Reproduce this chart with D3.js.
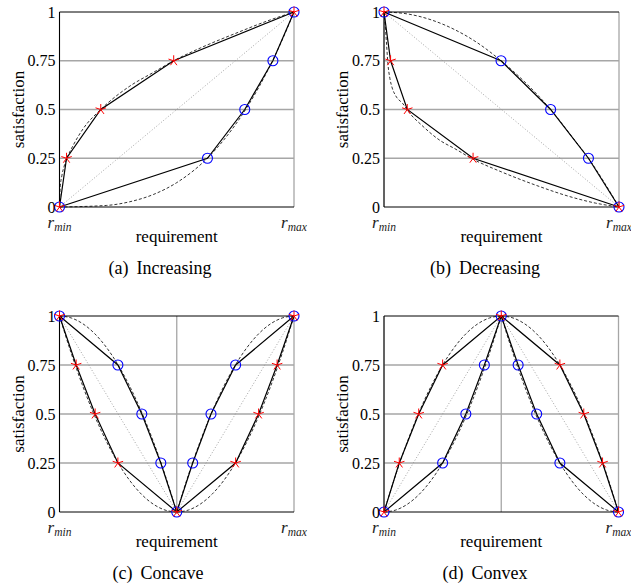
<!DOCTYPE html>
<html>
<head>
<meta charset="utf-8">
<script src="https://cdn.jsdelivr.net/npm/d3@7"></script>
<style>
  body { margin: 0; background: #fff; }
  svg { display: block; }
  text { font-family: "Liberation Serif", "Times New Roman", serif; }
</style>
</head>
<body>
<svg id="chart" width="631" height="584"></svg>
<script>
// ticks shared by every panel
const yTicks = [0, 0.25, 0.5, 0.75, 1];
const yTickLabels = ["0", "0.25", "0.5", "0.75", "1"];
const xTickSubs = ["min", "max"];

// (a) increasing
const incStars = [[0, 0], [0.03, 0.25], [0.176, 0.5], [0.487, 0.75], [1, 1]];
const incCircles = [[0, 0], [0.631, 0.25], [0.79, 0.5], [0.91, 0.75], [1, 1]];
const incStarCurve = [[[0, 0], [0.003, 0.1], [0.01, 0.16], [0.02, 0.21], [0.03, 0.245], [0.06, 0.32], [0.1, 0.4], [0.176, 0.5], [0.3, 0.62], [0.4, 0.69], [0.487, 0.75], [0.6, 0.815], [0.75, 0.89], [0.9, 0.96], [1, 1]]];
const incCircleCurve = [[[0, 0], [0.2, 0.008], [0.3, 0.027], [0.4, 0.064], [0.5, 0.125], [0.631, 0.251], [0.7, 0.343], [0.79, 0.493], [0.85, 0.614], [0.91, 0.754], [0.96, 0.885], [1, 1]]];
const incGuide = [[0, 0], [1, 1]];

// (b) decreasing
const decStars = [[0, 1], [0.028, 0.75], [0.099, 0.5], [0.379, 0.25], [1, 0]];
const decCircles = [[0, 1], [0.498, 0.75], [0.709, 0.5], [0.87, 0.25], [1, 0]];
const decStarCurve = [[[0, 1], [0.004, 0.95], [0.01, 0.85], [0.017, 0.73], [0.025, 0.66], [0.035, 0.61], [0.05, 0.57], [0.08, 0.53], [0.11, 0.48], [0.16, 0.42], [0.24, 0.34], [0.3, 0.3], [0.379, 0.245], [0.5, 0.18], [0.65, 0.11], [0.8, 0.05], [0.9, 0.02], [1, 0]]];
const decCircleCurve = [[[0, 1], [0.1, 0.99], [0.2, 0.96], [0.3, 0.91], [0.4, 0.84], [0.498, 0.75], [0.6, 0.64], [0.709, 0.5], [0.8, 0.36], [0.87, 0.25], [0.93, 0.14], [1, 0]]];
const decGuide = [[0, 1], [1, 0]];

// (c) concave
const cavStars = [[0, 1], [0.071, 0.75], [0.152, 0.5], [0.249, 0.25], [0.5, 0], [0.751, 0.25], [0.849, 0.5], [0.928, 0.75], [1, 1]];
const cavCircles = [[0, 1], [0.249, 0.75], [0.351, 0.5], [0.432, 0.25], [0.5, 0], [0.568, 0.25], [0.646, 0.5], [0.751, 0.75], [1, 1]];
const cavStarCurve = [
  [[0, 1], [0.05, 0.81], [0.1, 0.64], [0.15, 0.49], [0.2, 0.36], [0.25, 0.25], [0.3, 0.16], [0.35, 0.09], [0.4, 0.04], [0.45, 0.01], [0.5, 0]],
  [[0.5, 0], [0.55, 0.01], [0.6, 0.04], [0.65, 0.09], [0.7, 0.16], [0.75, 0.25], [0.8, 0.36], [0.85, 0.49], [0.9, 0.64], [0.95, 0.81], [1, 1]]
];
const cavCircleCurve = [
  [[0, 1], [0.05, 0.99], [0.1, 0.96], [0.15, 0.91], [0.2, 0.84], [0.25, 0.75], [0.3, 0.64], [0.35, 0.51], [0.4, 0.36], [0.45, 0.19], [0.5, 0]],
  [[0.5, 0], [0.55, 0.19], [0.6, 0.36], [0.65, 0.51], [0.7, 0.64], [0.75, 0.75], [0.8, 0.84], [0.85, 0.91], [0.9, 0.96], [0.95, 0.99], [1, 1]]
];
const cavGuide = [[0, 1], [0.5, 0], [1, 1]];

// (d) convex
const vexStars = [[0, 0], [0.065, 0.25], [0.148, 0.5], [0.25, 0.75], [0.5, 1], [0.75, 0.75], [0.852, 0.5], [0.932, 0.25], [1, 0]];
const vexCircles = [[0, 0], [0.25, 0.25], [0.349, 0.5], [0.428, 0.75], [0.5, 1], [0.572, 0.75], [0.651, 0.5], [0.75, 0.25], [1, 0]];
const vexStarCurve = [
  [[0, 0], [0.05, 0.19], [0.1, 0.36], [0.15, 0.51], [0.2, 0.64], [0.25, 0.75], [0.3, 0.84], [0.35, 0.91], [0.4, 0.96], [0.45, 0.99], [0.5, 1]],
  [[0.5, 1], [0.55, 0.99], [0.6, 0.96], [0.65, 0.91], [0.7, 0.84], [0.75, 0.75], [0.8, 0.64], [0.85, 0.51], [0.9, 0.36], [0.95, 0.19], [1, 0]]
];
const vexCircleCurve = [
  [[0, 0], [0.05, 0.01], [0.1, 0.04], [0.15, 0.09], [0.2, 0.16], [0.25, 0.25], [0.3, 0.36], [0.35, 0.49], [0.4, 0.64], [0.45, 0.81], [0.5, 1]],
  [[0.5, 1], [0.55, 0.81], [0.6, 0.64], [0.65, 0.49], [0.7, 0.36], [0.75, 0.25], [0.8, 0.16], [0.85, 0.09], [0.9, 0.04], [0.95, 0.01], [1, 0]]
];
const vexGuide = [[0, 0], [0.5, 1], [1, 0]];

const panels = [
  { label: "(a)", title: "Increasing", x0: 59.5, x1: 294, y0: 12, y1: 207, xGrid: [0, 1], cap: 160,
    stars: incStars, circles: incCircles, starCurve: incStarCurve, circleCurve: incCircleCurve, guide: incGuide },
  { label: "(b)", title: "Decreasing", x0: 384, x1: 619, y0: 12, y1: 207, xGrid: [0, 1], cap: 485,
    stars: decStars, circles: decCircles, starCurve: decStarCurve, circleCurve: decCircleCurve, guide: decGuide },
  { label: "(c)", title: "Concave", x0: 59.5, x1: 294, y0: 316, y1: 512, xGrid: [0, 0.5, 1], cap: 158,
    stars: cavStars, circles: cavCircles, starCurve: cavStarCurve, circleCurve: cavCircleCurve, guide: cavGuide },
  { label: "(d)", title: "Convex", x0: 384, x1: 618.5, y0: 316, y1: 512, xGrid: [0, 0.5, 1], cap: 485,
    stars: vexStars, circles: vexCircles, starCurve: vexStarCurve, circleCurve: vexCircleCurve, guide: vexGuide }
];

const svg = d3.select("#chart");

// 5-spoke asterisk like pgfplots "star"
const starPath = (r) =>
  d3.range(5).map((k) => {
    const a = (-90 + 72 * k) * Math.PI / 180;
    return `M0,0L${(r * Math.cos(a)).toFixed(2)},${(r * Math.sin(a)).toFixed(2)}`;
  }).join("");

panels.forEach((p) => {
  const x = d3.scaleLinear().domain([0, 1]).range([p.x0, p.x1]);
  const y = d3.scaleLinear().domain([0, 1]).range([p.y1, p.y0]);
  const g = svg.append("g");

  // grid
  g.append("g")
    .selectAll("line")
    .data(yTicks.slice(1, -1))
    .join("line")
    .attr("x1", p.x0).attr("x2", p.x1)
    .attr("y1", (d) => y(d)).attr("y2", (d) => y(d))
    .attr("stroke", "#a6a6a6").attr("stroke-width", 1.3);
  g.append("g")
    .selectAll("line")
    .data(p.xGrid)
    .join("line")
    .attr("x1", (d) => x(d)).attr("x2", (d) => x(d))
    .attr("y1", p.y0).attr("y2", p.y1)
    .attr("stroke", "#a6a6a6").attr("stroke-width", 1.3);

  // frame: left axis, top and bottom
  g.append("path")
    .attr("d", `M${p.x1},${p.y0}H${p.x0}V${p.y1}H${p.x1}`)
    .attr("fill", "none").attr("stroke", "#000").attr("stroke-width", 1);

  const line = d3.line().x((d) => x(d[0])).y((d) => y(d[1]));
  const smooth = d3.line().x((d) => x(d[0])).y((d) => y(d[1])).curve(d3.curveMonotoneX);

  // dotted guide
  g.append("path")
    .attr("d", line(p.guide))
    .attr("fill", "none").attr("stroke", "#8c8c8c")
    .attr("stroke-width", 0.8).attr("stroke-dasharray", "1,2");

  // dashed reference curves
  p.starCurve.concat(p.circleCurve).forEach((seg) => {
    g.append("path")
      .attr("d", smooth(seg))
      .attr("fill", "none").attr("stroke", "#000")
      .attr("stroke-width", 0.8).attr("stroke-dasharray", "3,2");
  });

  // solid piecewise lines
  [p.stars, p.circles].forEach((pts) => {
    g.append("path")
      .attr("d", line(pts))
      .attr("fill", "none").attr("stroke", "#000").attr("stroke-width", 1.2);
  });

  // markers
  g.append("g")
    .selectAll("circle")
    .data(p.circles)
    .join("circle")
    .attr("cx", (d) => x(d[0])).attr("cy", (d) => y(d[1]))
    .attr("r", 5)
    .attr("fill", "none").attr("stroke", "#0000ff").attr("stroke-width", 1.1);
  g.append("g")
    .selectAll("path")
    .data(p.stars)
    .join("path")
    .attr("transform", (d) => `translate(${x(d[0])},${y(d[1])})`)
    .attr("d", starPath(5.5))
    .attr("fill", "none").attr("stroke", "#ff0000").attr("stroke-width", 1);

  // y tick labels
  g.append("g")
    .selectAll("text")
    .data(yTicks)
    .join("text")
    .attr("x", p.x0 - 4)
    .attr("y", (d) => y(d))
    .attr("dy", "0.35em")
    .attr("text-anchor", "end")
    .attr("font-size", 16)
    .text((d, i) => yTickLabels[i]);

  // x tick labels r_min / r_max
  [0, 1].forEach((v, i) => {
    const t = g.append("text")
      .attr("x", x(v))
      .attr("y", p.y1 + 21)
      .attr("text-anchor", "middle")
      .attr("font-style", "italic")
      .attr("fill", "#222");
    t.append("tspan").attr("font-size", 17).text("r");
    t.append("tspan").attr("font-size", 11.5).attr("dy", 3).text(xTickSubs[i]);
  });

  // axis titles
  g.append("text")
    .attr("x", (p.x0 + p.x1) / 2)
    .attr("y", p.y1 + 35)
    .attr("text-anchor", "middle")
    .attr("font-size", 17)
    .text("requirement");
  g.append("text")
    .attr("transform", `translate(${p.x0 - 36},${(p.y0 + p.y1) / 2}) rotate(-90)`)
    .attr("text-anchor", "middle")
    .attr("font-size", 17)
    .text("satisfaction");

  // sub caption
  const cap = g.append("text")
    .attr("x", p.cap)
    .attr("y", p.y1 + 67)
    .attr("text-anchor", "middle")
    .attr("font-size", 18);
  cap.append("tspan").text(p.label);
  cap.append("tspan").attr("dx", 8).text(p.title);
});
</script>
</body>
</html>
